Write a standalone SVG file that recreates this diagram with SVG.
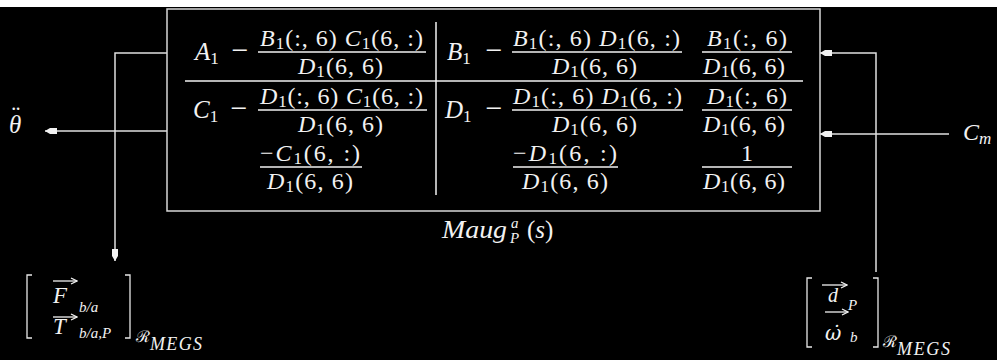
<svg xmlns="http://www.w3.org/2000/svg" width="997" height="360" viewBox="0 0 997 360">
<style>
.m{font-family:"Liberation Serif","DejaVu Serif",serif;font-size:24px;fill:#f2f2f2}
.dj{font-family:"DejaVu Serif",serif}
.i{font-style:italic}
.s{font-size:17px}
.mi{font-size:30px}
.box{stroke:#d8d8d8;stroke-width:1.5;fill:none}
.bar{stroke:#f2f2f2;stroke-width:1.5}
.c{stroke:#e0e0e0;stroke-width:1.5;fill:none}
.br{stroke:#e8e8e8;stroke-width:1.3;fill:none}
.va{stroke:#f2f2f2;stroke-width:1.3;fill:none}
</style>
<defs>
<marker id="ah" markerUnits="userSpaceOnUse" markerWidth="13" markerHeight="8" refX="12" refY="4" orient="auto" viewBox="0 0 13 8"><path d="M12,4 L7,1 L0,1 L0,7 L7,7 Z" fill="#f2f2f2"/></marker>
<marker id="vh" markerUnits="userSpaceOnUse" markerWidth="8" markerHeight="8" refX="7" refY="4" orient="auto" viewBox="0 0 8 8"><path d="M1,1 L7,4 L1,7" fill="none" stroke="#f2f2f2" stroke-width="1.3"/></marker>
</defs>
<rect x="0" y="0" width="997" height="360" fill="#000"/>
<rect x="0" y="0" width="997" height="7" fill="#fff"/>

<g id="connectors">
<path class="c" d="M167,53 H115 V261" marker-end="url(#ah)"/>
<path class="c" d="M876,272 V53 H820" marker-end="url(#ah)"/>
<path class="c" d="M167,131 H45" marker-end="url(#ah)"/>
<path class="c" d="M949,134 H820" marker-end="url(#ah)"/>
</g>

<g id="maug">
<rect class="box" x="167" y="9" width="653" height="202"/>
<line class="bar" x1="185" y1="81" x2="803" y2="81"/>
<line class="bar" x1="436" y1="22" x2="436" y2="195"/>
<!-- row 1 -->
<text class="m" x="195" y="60" style="font-size:25px"><tspan class="i">A</tspan><tspan class="s" dy="4">1</tspan></text>
<text class="m mi" x="240" y="60" text-anchor="middle">−</text>
<text class="m" x="260" y="46" textLength="163"><tspan class="i">B</tspan><tspan class="s" dy="3">1</tspan><tspan dy="-3">(:, 6) </tspan><tspan class="i">C</tspan><tspan class="s" dy="3">1</tspan><tspan dy="-3">(6, :)</tspan></text>
<line class="bar" x1="258" y1="52" x2="426" y2="52"/>
<text class="m" x="298" y="74" textLength="85"><tspan class="i">D</tspan><tspan class="s" dy="3">1</tspan><tspan dy="-3">(6, 6)</tspan></text>
<text class="m" x="447" y="60" style="font-size:25px"><tspan class="i">B</tspan><tspan class="s" dy="4">1</tspan></text>
<text class="m mi" x="494" y="60" text-anchor="middle">−</text>
<text class="m" x="513" y="46" textLength="167"><tspan class="i">B</tspan><tspan class="s" dy="3">1</tspan><tspan dy="-3">(:, 6) </tspan><tspan class="i">D</tspan><tspan class="s" dy="3">1</tspan><tspan dy="-3">(6, :)</tspan></text>
<line class="bar" x1="512" y1="52" x2="682" y2="52"/>
<text class="m" x="552" y="74" textLength="85"><tspan class="i">D</tspan><tspan class="s" dy="3">1</tspan><tspan dy="-3">(6, 6)</tspan></text>
<text class="m" x="707" y="46" textLength="80"><tspan class="i">B</tspan><tspan class="s" dy="3">1</tspan><tspan dy="-3">(:, 6)</tspan></text>
<line class="bar" x1="702" y1="52" x2="792" y2="52"/>
<text class="m" x="703" y="74" textLength="82"><tspan class="i">D</tspan><tspan class="s" dy="3">1</tspan><tspan dy="-3">(6, 6)</tspan></text>
<!-- row 2 -->
<text class="m" x="193" y="118" style="font-size:25px"><tspan class="i">C</tspan><tspan class="s" dy="4">1</tspan></text>
<text class="m mi" x="239" y="118" text-anchor="middle">−</text>
<text class="m" x="260" y="104" textLength="163"><tspan class="i">D</tspan><tspan class="s" dy="3">1</tspan><tspan dy="-3">(:, 6) </tspan><tspan class="i">C</tspan><tspan class="s" dy="3">1</tspan><tspan dy="-3">(6, :)</tspan></text>
<line class="bar" x1="258" y1="110" x2="427" y2="110"/>
<text class="m" x="298" y="132" textLength="85"><tspan class="i">D</tspan><tspan class="s" dy="3">1</tspan><tspan dy="-3">(6, 6)</tspan></text>
<text class="m" x="445" y="118" style="font-size:25px"><tspan class="i">D</tspan><tspan class="s" dy="4">1</tspan></text>
<text class="m mi" x="494" y="118" text-anchor="middle">−</text>
<text class="m" x="513" y="104" textLength="169"><tspan class="i">D</tspan><tspan class="s" dy="3">1</tspan><tspan dy="-3">(:, 6) </tspan><tspan class="i">D</tspan><tspan class="s" dy="3">1</tspan><tspan dy="-3">(6, :)</tspan></text>
<line class="bar" x1="512" y1="110" x2="683" y2="110"/>
<text class="m" x="552" y="132" textLength="85"><tspan class="i">D</tspan><tspan class="s" dy="3">1</tspan><tspan dy="-3">(6, 6)</tspan></text>
<text class="m" x="707" y="104" textLength="80"><tspan class="i">D</tspan><tspan class="s" dy="3">1</tspan><tspan dy="-3">(:, 6)</tspan></text>
<line class="bar" x1="702" y1="110" x2="792" y2="110"/>
<text class="m" x="703" y="132" textLength="82"><tspan class="i">D</tspan><tspan class="s" dy="3">1</tspan><tspan dy="-3">(6, 6)</tspan></text>
<!-- row 3 -->
<text class="m" x="260" y="161" textLength="100">−<tspan class="i">C</tspan><tspan class="s" dy="3">1</tspan><tspan dy="-3">(6, :)</tspan></text>
<line class="bar" x1="260" y1="167" x2="362" y2="167"/>
<text class="m" x="267" y="189" textLength="86"><tspan class="i">D</tspan><tspan class="s" dy="3">1</tspan><tspan dy="-3">(6, 6)</tspan></text>
<text class="m" x="513" y="161" textLength="104">−<tspan class="i">D</tspan><tspan class="s" dy="3">1</tspan><tspan dy="-3">(6, :)</tspan></text>
<line class="bar" x1="513" y1="167" x2="618" y2="167"/>
<text class="m" x="522" y="189" textLength="86"><tspan class="i">D</tspan><tspan class="s" dy="3">1</tspan><tspan dy="-3">(6, 6)</tspan></text>
<text class="m" x="747" y="161" text-anchor="middle">1</text>
<line class="bar" x1="702" y1="167" x2="792" y2="167"/>
<text class="m" x="703" y="189" textLength="82"><tspan class="i">D</tspan><tspan class="s" dy="3">1</tspan><tspan dy="-3">(6, 6)</tspan></text>
<!-- label -->
<text class="m i" x="442" y="238" style="font-size:26px" textLength="65" lengthAdjust="spacingAndGlyphs">Maug</text>
<text class="m i" x="511" y="228" style="font-size:15px">a</text>
<text class="m i" x="510" y="243" style="font-size:15px">P</text>
<text class="m" x="527" y="238" style="font-size:25px">(<tspan class="i">s</tspan>)</text>
</g>

<g id="theta-out">
<text class="m i" x="9" y="133" style="font-size:25px">θ<tspan x="10" y="124">¨</tspan></text>
</g>

<g id="cm-in">
<text class="m" x="963" y="140" style="font-size:24px"><tspan class="i">C</tspan><tspan class="i" style="font-size:17px" dy="4">m</tspan></text>
</g>

<g id="force-out">
<path class="br" d="M32,275 H27 V338 H32"/>
<path class="br" d="M125,275 H130 V338 H125"/>
<path class="va" d="M53,281 H77" marker-end="url(#vh)"/>
<text class="m i" x="53" y="303" style="font-size:23px">F</text>
<text class="m i" x="79" y="312" style="font-size:15px">b/a</text>
<path class="va" d="M53,317 H77" marker-end="url(#vh)"/>
<text class="m i" x="53" y="334" style="font-size:23px">T</text>
<text class="m i" x="79" y="338" style="font-size:15px">b/a,P</text>
<text class="m" x="136" y="342" style="font-size:16px">ℛ</text>
<text class="m i" x="150" y="350" style="font-size:18px" textLength="52">MEGS</text>
</g>

<g id="accel-in">
<path class="br" d="M812,278 H807 V347 H812"/>
<path class="br" d="M873,278 H878 V347 H873"/>
<path class="va" d="M822,285 H847" marker-end="url(#vh)"/>
<text class="m i" x="828" y="302" style="font-size:20px">d</text>
<text class="m i" x="848" y="310" style="font-size:15px">P</text>
<path class="va" d="M825,312 H848" marker-end="url(#vh)"/>
<text class="m dj i" x="825" y="340" style="font-size:20px">ω̇</text>
<text class="m i" x="850" y="342" style="font-size:15px">b</text>
<text class="m" x="883" y="347" style="font-size:16px">ℛ</text>
<text class="m i" x="897" y="355" style="font-size:18px" textLength="53">MEGS</text>
</g>
</svg>
